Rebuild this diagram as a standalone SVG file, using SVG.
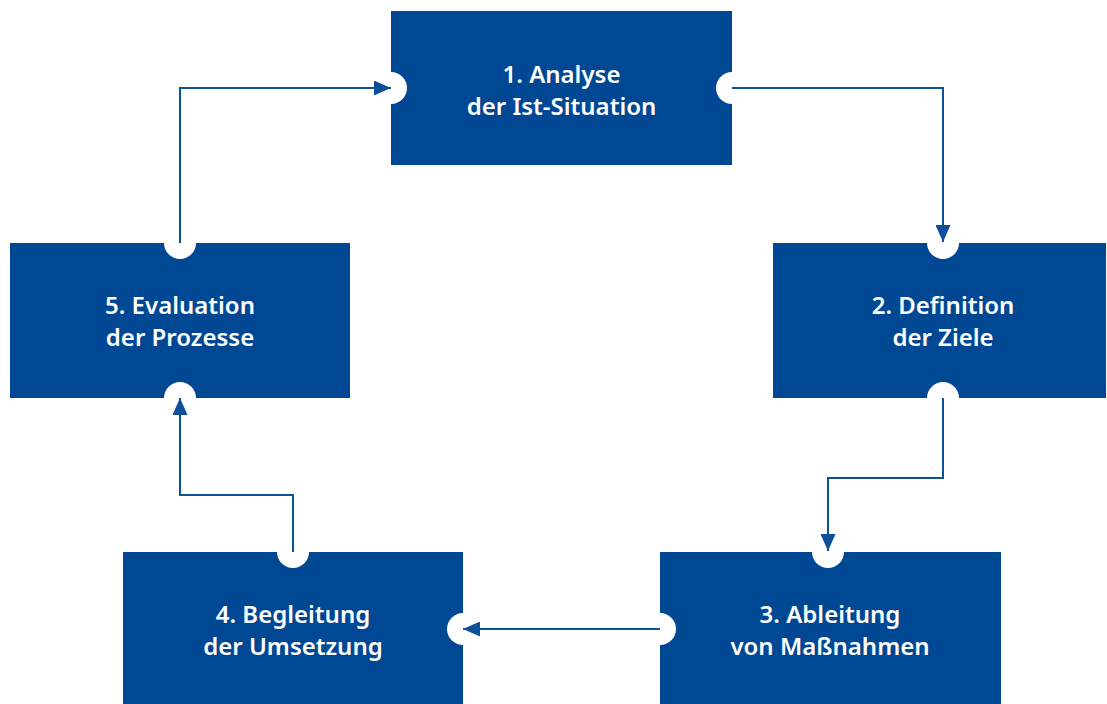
<svg xmlns="http://www.w3.org/2000/svg" width="1107" height="704" viewBox="0 0 1107 704">
<defs>
<style>
.box{fill:#004893}
.notch{fill:#ffffff}
.lbl{font-family:"Noto Sans","Open Sans",sans-serif;font-weight:600;font-size:24px;fill:#ffffff;text-anchor:middle}
.con{fill:none;stroke:#0d4f99;stroke-width:2}
</style>
<marker id="arr" markerUnits="userSpaceOnUse" markerWidth="17" markerHeight="15" refX="17" refY="7.5" orient="auto">
<path d="M0,0 L17,7.5 L0,15 z" fill="#0d4f99"/>
</marker>
</defs>
<g id="node1">
<rect class="box" x="391" y="11" width="341" height="154"/>
<circle class="notch" cx="391" cy="88" r="16"/>
<circle class="notch" cx="732" cy="88" r="16"/>
<text class="lbl" x="561.5" y="83">1. Analyse</text>
<text class="lbl" x="561.5" y="115">der Ist-Situation</text>
</g>
<g id="node2">
<rect class="box" x="773" y="243" width="333" height="155"/>
<circle class="notch" cx="943" cy="243" r="16"/>
<circle class="notch" cx="943" cy="398" r="16"/>
<text class="lbl" x="943" y="314">2. Definition</text>
<text class="lbl" x="943" y="346">der Ziele</text>
</g>
<g id="node3">
<rect class="box" x="660" y="552" width="341" height="152"/>
<circle class="notch" cx="828" cy="552" r="16"/>
<circle class="notch" cx="660" cy="629" r="16"/>
<text class="lbl" x="830" y="623">3. Ableitung</text>
<text class="lbl" x="830" y="655">von Maßnahmen</text>
</g>
<g id="node4">
<rect class="box" x="123" y="552" width="340" height="152"/>
<circle class="notch" cx="463" cy="629" r="16"/>
<circle class="notch" cx="293" cy="552" r="16"/>
<text class="lbl" x="293" y="623">4. Begleitung</text>
<text class="lbl" x="293" y="655">der Umsetzung</text>
</g>
<g id="node5">
<rect class="box" x="10" y="243" width="340" height="155"/>
<circle class="notch" cx="180" cy="243" r="16"/>
<circle class="notch" cx="180" cy="398" r="16"/>
<text class="lbl" x="180" y="314">5. Evaluation</text>
<text class="lbl" x="180" y="346">der Prozesse</text>
</g>
<g id="connectors">
<path class="con" d="M732,88 H943 V242" marker-end="url(#arr)"/>
<path class="con" d="M943,398 V478 H828 V551" marker-end="url(#arr)"/>
<path class="con" d="M660,629 H463" marker-end="url(#arr)"/>
<path class="con" d="M293,552 V495 H180 V398" marker-end="url(#arr)"/>
<path class="con" d="M180,243 V88 H391" marker-end="url(#arr)"/>
</g>
</svg>
